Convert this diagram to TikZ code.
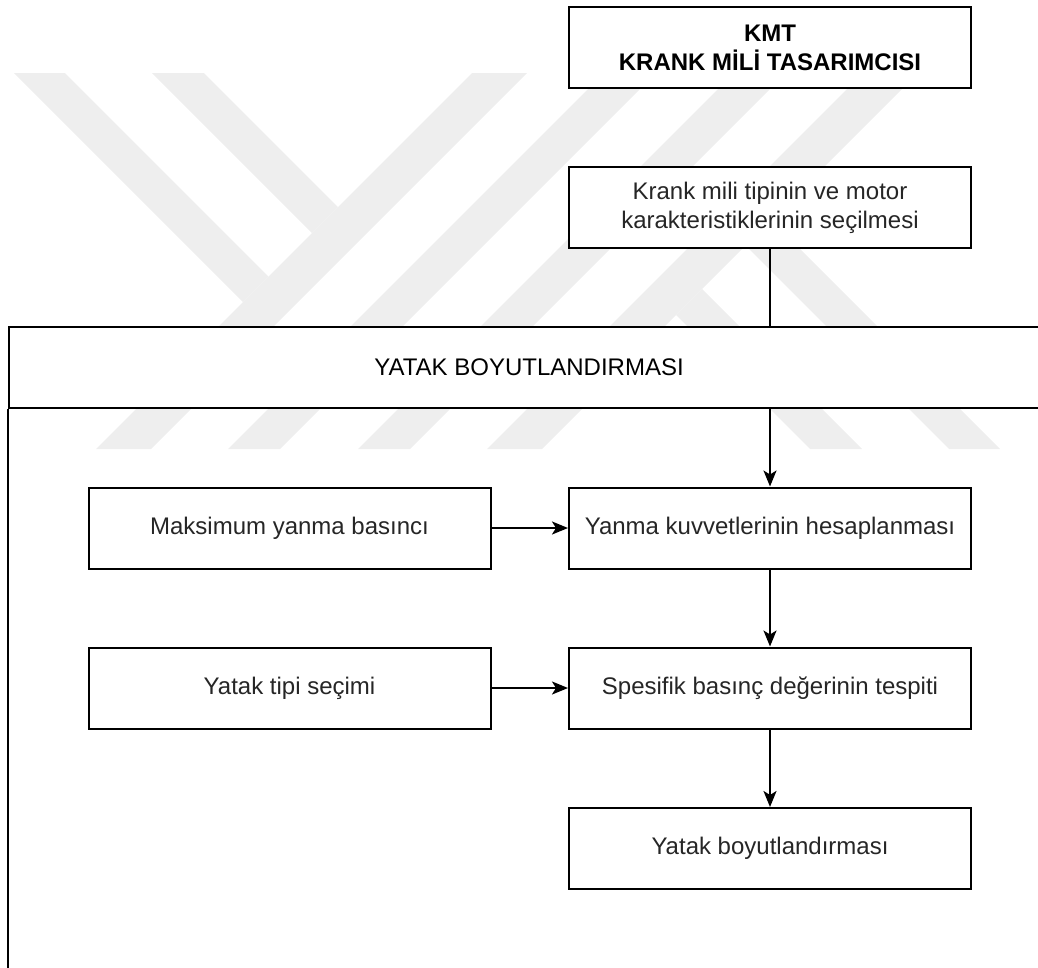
\documentclass[tikz,border=0pt]{standalone}
\usepackage{fontspec}
\setmainfont{Liberation Sans}
\usetikzlibrary{arrows.meta}
\definecolor{wm}{HTML}{EEEEEE}
\begin{document}
\begin{tikzpicture}[x=1pt,y=-1pt,
  txt/.style={font=\fontsize{24}{28.8}\selectfont},
  box/.style={txt, draw=black, line width=2pt, fill=white,
    minimum width=402pt, minimum height=81pt, inner sep=0pt,
    align=center, text=black!85},
  link/.style={line width=2pt},
  flow/.style={line width=2pt, -{Stealth[length=16pt,width=13pt,inset=4pt]}},
  wmark/.style={fill=wm}]
\useasboundingbox (0,0) rectangle (1038,967);
\clip (0,0) rectangle (1038,967);

% background emblem: diagonal bands
\fill[wmark] (14,73) -- (65,73) -- (268.5,276.5) -- (243,302) -- cycle;
\fill[wmark] (152,73) -- (204,73) -- (338,207) -- (312,233) -- cycle;
\fill[wmark] (472,73) -- (527,73) -- (151,449) -- (96,449) -- cycle;
\fill[wmark] (604,73) -- (656,73) -- (280,449) -- (228,449) -- cycle;
\fill[wmark] (734,73) -- (786,73) -- (410,449) -- (358,449) -- cycle;
\fill[wmark] (863,73) -- (918,73) -- (542,449) -- (487,449) -- cycle;
\fill[wmark] (676,315) -- (702,289) -- (862,449) -- (810,449) -- cycle;
\fill[wmark] (745.5,245.5) -- (771,220) -- (1000,449) -- (949,449) -- cycle;

% top boxes
\node[box, font=\fontsize{24}{28.8}\selectfont\bfseries, text=black] (kmt) at (770,47.5)
  {KMT\\KRANK MİLİ TASARIMCISI};
\node[box] (krank) at (770,207.5)
  {Krank mili tipinin ve motor\\karakteristiklerinin seçilmesi};

% lane with header
\node[txt, draw=black, line width=2pt, fill=white, minimum width=1040pt,
  minimum height=81pt, inner sep=0pt, text=black] (lane) at (529,367.5)
  {YATAK BOYUTLANDIRMASI};
\draw[link] (lane.south west) -- ++(0,600);

% lane content
\node[box] (maks) at (289.5,528) {Maksimum yanma basıncı};
\node[box] (yanma) at (770,528) {Yanma kuvvetlerinin hesaplanması};
\node[box] (tipi) at (289.5,688) {Yatak tipi seçimi};
\node[box] (spes) at (770,688) {Spesifik basınç değerinin tespiti};
\node[box] (yboy) at (770,848.5) {Yatak boyutlandırması};

% connectors
\draw[link] (krank) -- (krank.south |- lane.north);
\draw[flow] (lane.south -| yanma.north) -- (yanma);
\draw[flow] (maks) -- (yanma);
\draw[flow] (yanma) -- (spes);
\draw[flow] (tipi) -- (spes);
\draw[flow] (spes) -- (yboy);
\end{tikzpicture}
\end{document}
